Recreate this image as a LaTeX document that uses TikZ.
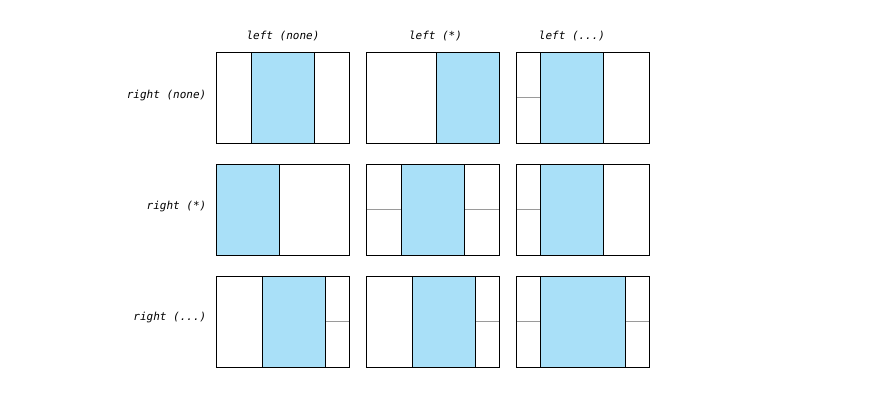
\documentclass[tikz,border=0pt]{standalone}
\usepackage{fontspec}
\setmonofont{DejaVu Sans Mono}
\definecolor{cellblue}{HTML}{A9E0F8}
\definecolor{splitgray}{HTML}{9A9A9A}
\tikzset{
  lbl/.style={font=\ttfamily\itshape\fontsize{11}{13}\selectfont, inner sep=0pt},
  frame/.style={draw=black, line width=1pt},
  divider/.style={draw=black, line width=1pt},
  half/.style={draw=splitgray, line width=1pt},
  blue/.style={fill=cellblue}
}
\begin{document}
\begin{tikzpicture}[x=1pt,y=-1pt]
\useasboundingbox (0,0) rectangle (880,400);
% column labels
\node[lbl] (c1) at (283,36.5) {left (none)};
\node[lbl] (c2) at (435.5,36.5) {left (*)};
\node[lbl] (c3) at (572,36.5) {left (...)};
% row labels
\node[lbl, anchor=east] (r1) at (206.5,95.5) {right (none)};
\node[lbl, anchor=east] (r2) at (206.5,206.5) {right (*)};
\node[lbl, anchor=east] (r3) at (206.5,317.5) {right (...)};
% Row 1
\fill[blue] (251.3,52) rectangle (314.3,143);
\draw[divider] (251.3,52) -- (251.3,143) (314.3,52) -- (314.3,143);
\draw[frame] (216,52) rectangle (349,143);

\fill[blue] (436.7,52) rectangle (499,143);
\draw[divider] (436.7,52) -- (436.7,143);
\draw[frame] (366,52) rectangle (499,143);

\fill[blue] (540.3,52) rectangle (603.3,143);
\draw[half] (516,97.5) -- (540.3,97.5);
\draw[divider] (540.3,52) -- (540.3,143) (603.3,52) -- (603.3,143);
\draw[frame] (516,52) rectangle (649,143);
% Row 2
\fill[blue] (216,164) rectangle (279.3,255);
\draw[divider] (279.3,164) -- (279.3,255);
\draw[frame] (216,164) rectangle (349,255);

\fill[blue] (401.3,164) rectangle (464.3,255);
\draw[half] (366,209.5) -- (401.3,209.5) (464.3,209.5) -- (499,209.5);
\draw[divider] (401.3,164) -- (401.3,255) (464.3,164) -- (464.3,255);
\draw[frame] (366,164) rectangle (499,255);

\fill[blue] (540.3,164) rectangle (603.3,255);
\draw[half] (516,209.5) -- (540.3,209.5);
\draw[divider] (540.3,164) -- (540.3,255) (603.3,164) -- (603.3,255);
\draw[frame] (516,164) rectangle (649,255);
% Row 3
\fill[blue] (262.3,276) rectangle (325.3,367);
\draw[half] (325.3,321.5) -- (349,321.5);
\draw[divider] (262.3,276) -- (262.3,367) (325.3,276) -- (325.3,367);
\draw[frame] (216,276) rectangle (349,367);

\fill[blue] (412.3,276) rectangle (475.3,367);
\draw[half] (475.3,321.5) -- (499,321.5);
\draw[divider] (412.3,276) -- (412.3,367) (475.3,276) -- (475.3,367);
\draw[frame] (366,276) rectangle (499,367);

\fill[blue] (540.3,276) rectangle (625.3,367);
\draw[half] (516,321.5) -- (540.3,321.5) (625.3,321.5) -- (649,321.5);
\draw[divider] (540.3,276) -- (540.3,367) (625.3,276) -- (625.3,367);
\draw[frame] (516,276) rectangle (649,367);
\end{tikzpicture}
\end{document}
